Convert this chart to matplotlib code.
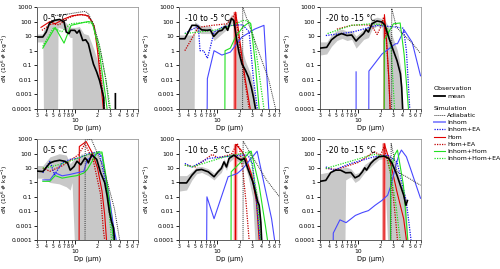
"""
Ice crystal size distributions: observations vs. simulations
Six panels (two cases x three temperature ranges), log-log axes
"""

import numpy as np
import matplotlib
matplotlib.use('Agg')
import matplotlib.pyplot as plt
from matplotlib.ticker import FixedLocator, FixedFormatter, NullLocator
from matplotlib.lines import Line2D

plt.rcParams.update({
    'font.family': 'DejaVu Sans',
    'axes.linewidth': 0.6,
})

NAN = np.nan
LOW = 1e-6   # below the axis floor, used where a curve drops to zero

panel_titles = ['0-5 °C', '-10 to -5 °C', '-20 to -15 °C',
                '0-5 °C', '-10 to -5 °C', '-20 to -15 °C']

# ---------------- panel 1 (top, 0-5 °C) ----------------
p1_mean_x = [3, 3.6, 4.0, 4.45, 5.2, 6.1, 7.0, 7.5, 8.2, 8.6, 9.8, 10.5, 11.3, 12.6, 13.8, 15, 16.4, 17.6,
             19.5, 21.3, 23, 24.3, 25, NAN, 35, 35]
p1_mean_y = [8.7, 8.7, 19, 80, 120, 140, 93, 19, 15, 25, 25, 16, 25, 5, 5.6, 3, 0.47, 0.12,
             0.034, 0.009, 0.0019, 0.0006, LOW, NAN, LOW, 0.0011]
p1_grey_x = [3, 3.6, 3.7, 4.4, 5.2, 5.7, 5.8, 7, 8.5, 9, 9.1, 10, 11.3, 13, 15, 17.6, 20, 22, 24, 25]
p1_grey_lo = [4, 4, LOW, LOW, LOW, LOW, 40, 30, 8, 8, LOW, LOW, LOW, LOW, LOW, LOW, LOW, LOW, LOW, LOW]
p1_grey_hi = [14, 14, 25, 100, 160, 170, 150, 120, 40, 40, 40, 40, 45, 15, 12, 1.5, 0.2, 0.05, 0.003, LOW]
p1_adiab_x = [5, 8, 10, 13.5, 15, 18, 22, 26, 29]
p1_adiab_y = [250, 330, 400, 500, 350, 50, 1, 0.01, 1e-4]
p1_inhom_x, p1_inhom_y = [], []
p1_inhomea_x, p1_inhomea_y = [], []
p1_hom_x = [3.4, 4.5, 5.3, 7, 9, 12, 15, 18, 20, 22, 24]
p1_hom_y = [40, 100, 70, 150, 250, 300, 250, 50, 1, 0.01, 1e-4]
p1_homea_x = [3.5, 4.7, 6, 8, 11, 14, 17, 20, 22.5, 25]
p1_homea_y = [25, 70, 60, 180, 300, 280, 100, 3, 0.01, 1e-4]
p1_ih_x = [3.6, 5.3, 7, 8.7, 12, 15, 17, 21, 25, 27]
p1_ih_y = [1.5, 40, 3.3, 55, 80, 100, 90, 1, 0.002, 1e-4]
p1_ihea_x = [3.6, 5, 6.5, 8.5, 11, 14, 17, 21, 26, 30]
p1_ihea_y = [2, 35, 20, 70, 80, 90, 70, 3, 0.01, 1e-4]

# ---------------- panel 2 (top, -10 to -5 °C) ----------------
p2_mean_x = [3, 3.6, 4.5, 5.2, 6.1, 7.2, 8.0, 8.9, 10.4, 11.5, 12.8, 13.8, 15.5, 16.7, 18.2, 19.6, 21.5,
             24.2, 26.5, 29, 31, 33]
p2_mean_y = [6.6, 6.6, 55, 55, 27, 25, 27, 9.5, 22, 25, 47, 25, 160, 120, 6.6, 0.8, 0.13,
             0.043, 0.015, 0.003, 0.0006, 1e-4]
p2_grey_x = [3, 4.8, 4.9, 6, 8, 9, 11, 13, 15.5, 17, 18.5, 20, 24, 28, 31, 34]
p2_grey_lo = [LOW, LOW, 25, 15, 15, 5, 12, 25, 80, 50, LOW, LOW, LOW, LOW, LOW, LOW]
p2_grey_hi = [12, 12, 100, 50, 50, 20, 40, 80, 300, 250, 30, 5, 0.2, 0.03, 0.003, 1e-4]
p2_adiab_x = [22, 22.1, 27, 36, 50, 62]
p2_adiab_y = [LOW, 1000, 55, 1, 0.01, 1e-4]
p2_inhom_x = [7.2, 7.3, 9, 11.5, 15, 21.5, 32, 43, 50]
p2_inhom_y = [LOW, 0.012, 1, 0.5, 0.8, 8.5, 30, 55, 1e-4]
p2_inhomea_x = [3.6, 5.5, 5.8, 6.5, 7.3, 8, 9, 11.5, 15.5, 22, 27, 31, 35]
p2_inhomea_y = [15, 50, 1, 1, 0.3, 1.7, 19, 40, 55, 60, 20, 0.01, 1e-4]
p2_hom_x = [17.4, 17.5, 19, 21, 24, 28]
p2_hom_y = [LOW, 450, 50, 1, 0.01, 1e-4]
p2_homea_x = [3.6, 5.5, 8.5, 13.5, 17.6, 19, 21, 24, 27]
p2_homea_y = [1, 40, 55, 70, 350, 20, 0.3, 0.005, 1e-4]
p2_ih_x = [12.6, 12.7, 15, 17.6, 22, 27, 28.5, 33, 37]
p2_ih_y = [LOW, 1, 1.5, 8.5, 40, 90, 70, 0.1, 1e-4]
p2_ihea_x = [3.6, 6, 9, 13, 17, 22, 27, 32, 38, 43]
p2_ihea_y = [15, 20, 25, 40, 60, 120, 110, 5, 0.01, 1e-4]

# ---------------- panel 3 (top, -20 to -15 °C) ----------------
p3_mean_x = [3, 3.7, 4.3, 5.1, 5.9, 7.0, 8.1, 9.3, 9.9, 11.8, 12.7, 13.7, 15.3, 17.9, 21, 23, 25.8,
             28.7, 33.6, 37.3, 38.8, 40]
p3_mean_y = [1.5, 1.7, 5.6, 11, 15, 11, 12, 4.6, 6.6, 15, 28, 19, 71, 110, 93, 55, 8.6,
             1.8, 0.2, 0.026, 0.003, 1e-4]
p3_grey_x = [3, 3.7, 4.3, 5.1, 6, 7, 8.1, 9.3, 11.8, 13.7, 15.3, 18, 21, 23, 26, 29, 34, 38, 40]
p3_grey_lo = [0.5, 0.6, 2, 5, 7, 5, 6, 1.5, 6, 8, 30, 50, 40, LOW, LOW, LOW, LOW, LOW, LOW]
p3_grey_hi = [4, 4, 12, 25, 30, 22, 25, 10, 30, 50, 150, 200, 160, 120, 40, 10, 1, 0.05, 1e-4]
p3_adiab_x = [28.3, 28.4, 33, 45, 55, 70]
p3_adiab_y = [LOW, 800, 40, 8, 3, 0.65]
p3_inhom_x = [9.3, 9.3, NAN, 13.8, 13.9, 21, 32, 34, 42, 54, 70]
p3_inhom_y = [LOW, 0.035, NAN, LOW, 0.04, 0.6, 3, 3, 26, 3.7, 0.019]
p3_inhomea_x = [3.6, 8.3, 18, 32, 41, 45, 50]
p3_inhomea_y = [11, 19, 55, 42, 35, 1, 1e-4]
p3_hom_x = [22.3, 22.6, 24, 26, 27]
p3_hom_y = [LOW, 300, 10, 0.01, 1e-4]
p3_homea_x = [5.1, 8, 12, 15, 18, 20, 22, 24, 26, 27]
p3_homea_y = [30, 55, 60, 55, 13, 40, 200, 5, 0.01, 1e-4]
p3_ih_x = [22.4, 22.5, 26, 30, 37, 42, 48]
p3_ih_y = [LOW, 5, 20, 70, 80, 0.5, 1e-4]
p3_ihea_x = [3.8, 8, 15, 22, 25, 28, 31]
p3_ihea_y = [15, 55, 70, 60, 30, 1, 1e-4]

# ---------------- panel 4 (bottom, 0-5 °C) ----------------
p4_mean_x = [3, 3.6, 4.5, 5.2, 6.1, 7.1, 7.8, 8.5, 9.6, 10.5, 11.8, 13.5, 14.3, 15, 16.7, 19.5, 22,
             25, 27, 29, 31, 33, 34]
p4_mean_y = [6.2, 5.7, 23, 30, 35, 30, 23, 7.2, 13, 30, 17, 50, 38, 23, 85, 40, 4.8,
             1, 0.12, 0.009, 0.0019, 0.0007, 1e-4]
p4_grey_x = [3, 3.6, 4.5, 6, 7.5, 8.5, 9, 10, 11, 12, 14, 16.7, 20, 22, 25, 28, 31, 34]
p4_grey_lo = [2, 2, 1, 0.8, 0.5, 0.3, 1, LOW, LOW, LOW, LOW, LOW, LOW, LOW, LOW, LOW, LOW, LOW]
p4_grey_hi = [15, 15, 60, 100, 80, 20, 30, 60, 50, 100, 80, 150, 100, 20, 5, 0.5, 0.01, 1e-4]
p4_adiab_x = [13.5, 13.6, 16.5, 24, 34, 40]
p4_adiab_y = [LOW, 900, 1000, 12, 0.015, 1e-4]
p4_inhom_x = [3.6, 4.5, 5.3, 6.6, 8.4, 10.5, 13, 14.5, 20, 23, 28, 33, 36]
p4_inhom_y = [1.5, 1.5, 4.7, 2.9, 3.6, 4.7, 6, 38, 110, 65, 0.25, 0.0009, 1e-4]
p4_inhomea_x = [3.6, 4.5, 5.2, 6.6, 8.4, 11, 15, 21, 28, 33]
p4_inhomea_y = [4.7, 30, 3.5, 23, 40, 50, 100, 140, 0.12, 1e-4]
p4_hom_x = [11.2, 11.3, 14, 17, 20, 23, 25, 26.5]
p4_hom_y = [LOW, 316, 700, 110, 10, 0.25, 0.006, 1e-4]
p4_homea_x = [3.6, 4.5, 6.7, 11, 13.5, 17.6, 22, 24, 25]
p4_homea_y = [10, 6, 15, 85, 480, 30, 0.15, 0.0005, 1e-4]
p4_ih_x = [3.6, 4.5, 5.3, 6.6, 8.4, 10.5, 13, 14.5, 20, 23, 26, 30, 33]
p4_ih_y = [1.2, 1.2, 3, 2, 2.5, 3, 4.5, 8, 130, 130, 3, 0.01, 1e-4]
p4_ihea_x = [3.6, 4.5, 6.6, 11, 15, 20, 23, 27, 31]
p4_ihea_y = [10, 12, 20, 50, 90, 120, 100, 0.5, 1e-4]

# ---------------- panel 5 (bottom, -10 to -5 °C) ----------------
p5_mean_x = [3, 3.8, 4.5, 5.2, 6.1, 7.5, 9.0, 10.2, 11.3, 12.3, 13.3, 14.4, 16.8, 18.7, 21, 23.3,
             25.9, 30.3, 35.4, 37, 39, 40]
p5_mean_y = [0.93, 0.93, 3.2, 7.2, 8, 5.5, 2.5, 5.5, 9.4, 27, 12, 47, 80, 52, 36, 47,
             9.4, 1.1, 0.044, 0.026, 0.0017, 1e-4]
p5_grey_x = [3, 3.8, 4.5, 5.2, 6.1, 7.5, 9, 10.2, 11.3, 12.3, 13.3, 14.4, 16.8, 18.7, 21, 23.3, 26,
             30, 34, 37, 40]
p5_grey_lo = [0.25, 0.3, 1.5, 4, 5, 3, 1.5, 3, 5, 15, 7, 25, 50, 30, 20, 20, 3, 0.1, LOW, LOW, LOW]
p5_grey_hi = [3, 3, 6, 12, 13, 9, 4.5, 9, 16, 45, 20, 80, 130, 90, 70, 80, 25, 4, 0.3, 0.05, 1e-4]
p5_adiab_x = [22.3, 22.4, 32, 47, 70]
p5_adiab_y = [LOW, 760, 36, 1.4, 0.1]
p5_inhom_x = [7.1, 7.2, 9.0, 14, 18.6, 22.3, 28.8, 34.7, 54.6, 60]
p5_inhom_y = [LOW, 0.1, 0.003, 2.5, 4.2, 9.4, 47, 150, 0.003, 1e-4]
p5_inhomea_x = [3.6, 4.5, 7.5, 12, 21, 26, 30, 34, 38]
p5_inhomea_y = [21, 12, 47, 60, 80, 80, 20, 0.05, 1e-4]
p5_hom_x = [17.6, 17.7, 21, 24.5, 29.3, 34, 37]
p5_hom_y = [LOW, 450, 180, 47, 3.2, 0.044, 1e-4]
p5_homea_x = [3.6, 5, 8.5, 10.2, 15.5, 18.6, 20, 22.3, 24.5, 27]
p5_homea_y = [16, 12, 90, 52, 90, 520, 230, 5.5, 0.044, 1e-4]
p5_ih_x = [15.3, 15.4, 21, 27.5, 28.8, 37, 45, 48]
p5_ih_y = [LOW, 5.5, 27, 137, 150, 0.6, 0.001, 1e-4]
p5_ihea_x = [3.6, 4.5, 12.5, 21, 27.5, 34, 39]
p5_ihea_y = [16, 12, 60, 100, 137, 0.22, 1e-4]

# ---------------- panel 6 (bottom, -20 to -15 °C) ----------------
p6_mean_x = [3, 3.6, 4.2, 4.9, 5.7, 6.7, 7.9, 9.0, 10.2, 11.3, 12.2, 12.9, 14.7, 16.3, 19, 22.3, 25.9,
             28.8, 33.5, 37.2, 41.3, 44.3, 45, 46.5]
p6_mean_y = [1.2, 1.4, 4.9, 7.2, 7.2, 4.7, 4.9, 2.1, 2.9, 5.5, 10.5, 7.2, 21, 36, 61, 68, 47,
             21, 3.2, 0.64, 0.13, 0.026, 0.033, 0.055]
p6_grey_x = [3, 4.5, 6.5, 6.7, 7.9, 9, 10.2, 12.2, 14.7, 16.3, 19, 22.3, 25.9, 28.8, 33.5, 37.2, 41.3,
             44, 47]
p6_grey_lo = [LOW, LOW, LOW, 1.5, 2.5, 1, 1.5, 5, 12, 20, 40, 45, LOW, LOW, LOW, LOW, LOW, LOW, LOW]
p6_grey_hi = [4, 6, 12, 12, 9, 4, 5, 18, 35, 60, 90, 100, 80, 40, 8, 1.5, 0.3, 0.1, 1e-4]
p6_adiab_x = [27.8, 27.9, 33.5, 45, 70]
p6_adiab_y = [LOW, 520, 5.5, 2.5, 0.64]
p6_inhom_x = [4.5, 4.55, 5.6, 6.8, 9.1, 11.3, 13.7, 16.9, 20.8, 25, 27.8, 31.5, 35.5, 38.5, 45, 52, 61, 70]
p6_inhom_y = [LOW, 0.0003, 0.0025, 0.0016, 0.0051, 0.008, 0.011, 0.026, 0.055, 0.13, 0.64, 9.4,
              80, 180, 61, 7.2, 0.64, 0.08]
p6_inhomea_x = [3.6, 4.6, 7.9, 16.3, 25, 33.5, 45, 52]
p6_inhomea_y = [12, 7.2, 21, 61, 80, 27, 0.044, 1e-4]
p6_hom_x = [22.3, 22.4, 27.8, 33.5, 41.3, 45]
p6_hom_y = [LOW, 520, 16, 0.22, 0.003, 1e-4]
p6_homea_x = [3.6, 5, 10, 16.3, 20, 22.3, 27.8, 32, 34]
p6_homea_y = [9.4, 8, 25, 137, 80, 300, 3.2, 0.003, 1e-4]
p6_ih_x = [27.3, 27.4, 31, 34, 41, 47]
p6_ih_y = [LOW, 5.5, 80, 180, 0.64, 1e-4]
p6_ihea_x = [3.6, 16.3, 25, 32, 37]
p6_ihea_y = [9.4, 90, 61, 0.044, 1e-4]

# panels where the Hom onset is drawn as a thick pale bar
pink_onset = [False, True, False, False, True, True]

x_minor = [3, 4, 5, 6, 7, 8, 9, 20, 30, 40, 50, 60, 70]
x_minor_labels = ['3', '4', '5', '6', '7', '8', '9', '2', '3', '4', '5', '6', '7']
y_ticks = [1e-4, 1e-3, 1e-2, 1e-1, 1, 10, 100, 1000]
y_labels = ['0.0001', '0.001', '0.01', '0.1', '1', '10', '100', '1000']

# simulation styles: (label, colour, linestyle, linewidth)
sim_styles = [
    ('Adiabatic', '#333333', (0, (1, 1)), 0.7),
    ('Inhom', '#4848ff', '-', 0.8),
    ('Inhom+EA', '#1010ee', (0, (1, 1)), 0.9),
    ('Hom', '#e00000', '-', 0.8),
    ('Hom+EA', '#c00000', (0, (1, 1)), 0.9),
    ('Inhom+Hom', '#22e022', '-', 0.8),
    ('Inhom+Hom+EA', '#22e022', (0, (1, 1)), 0.9),
]

panels = []
for i in range(1, 7):
    g = globals()
    panels.append({
        'mean': (g[f'p{i}_mean_x'], g[f'p{i}_mean_y']),
        'grey': (g[f'p{i}_grey_x'], g[f'p{i}_grey_lo'], g[f'p{i}_grey_hi']),
        'sims': [(g[f'p{i}_adiab_x'], g[f'p{i}_adiab_y']),
                 (g[f'p{i}_inhom_x'], g[f'p{i}_inhom_y']),
                 (g[f'p{i}_inhomea_x'], g[f'p{i}_inhomea_y']),
                 (g[f'p{i}_hom_x'], g[f'p{i}_hom_y']),
                 (g[f'p{i}_homea_x'], g[f'p{i}_homea_y']),
                 (g[f'p{i}_ih_x'], g[f'p{i}_ih_y']),
                 (g[f'p{i}_ihea_x'], g[f'p{i}_ihea_y'])],
    })

fig = plt.figure(figsize=(5.0, 2.69), dpi=100)

lefts = [0.074, 0.358, 0.640]
bottoms = [0.595, 0.108]
width = 0.201
heights = [0.379, 0.374]

for idx, pan in enumerate(panels):
    row, col = divmod(idx, 3)
    ax = fig.add_axes([lefts[col], bottoms[row], width, heights[row]])
    ax.set_xscale('log')
    ax.set_yscale('log')

    gx, glo, ghi = pan['grey']
    ax.fill_between(gx, glo, ghi, color='#c8c8c8', lw=0, zorder=1)

    # simulations
    order = [3, 4, 1, 2, 5, 6, 0]
    for k in order:
        sx, sy = pan['sims'][k]
        if len(sx) == 0:
            continue
        lab, c, ls, lw = sim_styles[k]
        ax.plot(sx, sy, color=c, ls=ls, lw=lw, zorder=3)
        if k == 3 and pink_onset[idx]:
            ax.plot(sx[:2], sy[:2], color='#f08080', lw=2.6, alpha=0.85, zorder=2,
                    solid_capstyle='butt')

    mx, my = pan['mean']
    ax.plot(mx, my, color='black', lw=1.2, zorder=4)

    ax.set_xlim(3, 70)
    ax.set_ylim(1e-4, 1000)

    ax.xaxis.set_major_locator(FixedLocator([10]))
    ax.xaxis.set_major_formatter(FixedFormatter(['10']))
    ax.xaxis.set_minor_locator(FixedLocator(x_minor))
    ax.xaxis.set_minor_formatter(FixedFormatter(x_minor_labels))
    ax.yaxis.set_major_locator(FixedLocator(y_ticks))
    ax.yaxis.set_major_formatter(FixedFormatter(y_labels))
    ax.yaxis.set_minor_locator(NullLocator())

    ax.tick_params(axis='x', which='minor', labelsize=3.3, length=2, width=0.5, pad=1)
    ax.tick_params(axis='x', which='major', labelsize=4.3, length=3, width=0.6, pad=3.5)
    ax.tick_params(axis='y', which='major', labelsize=4.3, length=2.5, width=0.6, pad=1)

    for side in ['top', 'right']:
        ax.spines[side].set_color('#999999')
    for side in ['left', 'bottom']:
        ax.spines[side].set_color('#444444')

    ax.set_xlabel('Dp (μm)', fontsize=4.8, labelpad=1)
    ax.set_ylabel('dN (10$^6$ # kg$^{-1}$)', fontsize=4.3, labelpad=1)
    ax.text(0.06, 0.93, panel_titles[idx], transform=ax.transAxes, fontsize=5.6,
            va='top', ha='left', zorder=5)

# legends
obs_handles = [Line2D([], [], color='black', lw=1.3)]
leg1 = fig.legend(obs_handles, ['mean'], title='Observation', loc='upper left',
                  bbox_to_anchor=(0.868, 0.682), frameon=False, fontsize=4.5,
                  title_fontsize=4.5, handlelength=1.8, handletextpad=0.35,
                  borderaxespad=0, borderpad=0, alignment='left')
sim_handles = [Line2D([], [], color=c, ls=ls, lw=(lw if lab != 'Inhom' else 1.4))
               for lab, c, ls, lw in sim_styles]
sim_handles[1].set_color('#8c8cff')
leg2 = fig.legend(sim_handles, [s[0] for s in sim_styles], title='Simulation',
                  loc='upper left', bbox_to_anchor=(0.868, 0.607), frameon=False,
                  fontsize=4.5, title_fontsize=4.5, handlelength=1.8, handletextpad=0.35,
                  labelspacing=0.3, borderaxespad=0, borderpad=0, alignment='left')

fig.savefig('out.png', dpi=100)
